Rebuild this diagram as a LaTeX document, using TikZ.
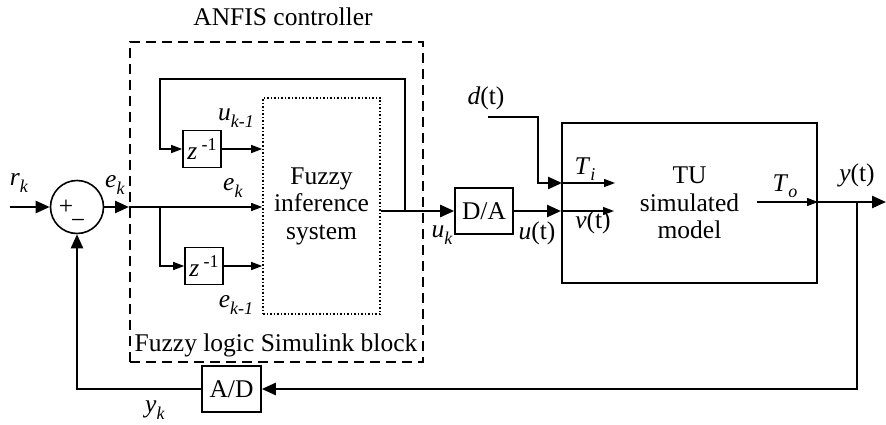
\documentclass[tikz,border=0pt]{standalone}
\usepackage{fontspec}
\setmainfont{Liberation Serif}
\usetikzlibrary{arrows.meta,calc}
\newcommand\sv[2]{\textit{#1}\raisebox{-0.55ex}{\fontsize{18}{18}\selectfont\textit{#2}}}
\newcommand\zinv{\textit{z}\,\raisebox{0.75ex}{\fontsize{18}{18}\selectfont -1}}
\begin{document}
\begin{tikzpicture}[x=1pt,y=-1pt,
  every node/.style={font=\fontsize{25.5}{27.5}\selectfont, inner sep=0pt},
  blk/.style={draw, line width=1.6pt},
  thinline/.style={line width=1.3pt},
  thickline/.style={line width=2.4pt},
  bigarrow/.style={thickline,-{Triangle[length=14pt,width=12pt]}},
  smallarrow/.style={thinline,-{Triangle[length=11pt,width=8pt]}}]
\useasboundingbox (0,0) rectangle (886,425);

% blocks
\node[draw, line width=2pt, dash pattern=on 10pt off 6pt, minimum width=293pt, minimum height=320pt] (ctrl) at (276.5,202) {};
\node (title) at (283,17) {ANFIS controller};
\node (fls) at (276,345) {Fuzzy logic Simulink block};
\node[draw, circle, line width=1.6pt, minimum size=53pt] (sum) at (77,207) {};
\node (plus) at (66,207) {+};
\node (minus) at (78,224) {−};
\node[draw, line width=1.6pt, dash pattern=on 1.5pt off 2pt, minimum width=117pt, minimum height=216pt, align=center] (fis) at (321.5,206) {Fuzzy\\inference\\system};
\node[blk, minimum width=38pt, minimum height=37pt] (z1) at (202,149) {\zinv};
\node[blk, minimum width=38pt, minimum height=37pt] (z2) at (204,266) {\zinv};
\node[blk, minimum width=58pt, minimum height=46pt] (da) at (484,211) {D/A};
\node[draw, line width=2pt, minimum width=255pt, minimum height=160pt, align=center] (tu) at (689.5,203) {TU\\simulated\\model};
\node[blk, minimum width=59pt, minimum height=46pt] (ad) at (231.5,389) {A/D};

% coordinates
\coordinate (rin) at (10,207);
\coordinate (b1) at (160,207);
\coordinate (jo) at (405,211);
\coordinate (l2) at (160,79);
\coordinate (dstart) at (488,117);
\coordinate (dk) at (538,117);
\coordinate (ti) at (562,183);
\coordinate (tiend) at (615,183);
\coordinate (to1) at (757,202);
\coordinate (yout) at (886,202);
\coordinate (fb) at (857,202);
\coordinate (fbc) at (857,389);
\coordinate (fbl) at (77,389);

% connectors
\draw[bigarrow] (rin) -- (sum.west);
\draw[bigarrow] (sum.east) -- (sum.east -| ctrl.west);
\draw[smallarrow] (sum.east -| ctrl.west) -- (sum.east -| fis.west);
\draw[smallarrow] (b1) |- (z2.west);
\draw[smallarrow] (z2.east) -- (z2.east -| fis.west);
\draw[smallarrow] (jo) |- (l2) |- (z1.west);
\draw[smallarrow] (z1.east) -- (z1.east -| fis.west);
\draw[thinline] (fis.east |- jo) -- (jo -| ctrl.east);
\draw[bigarrow] (jo -| ctrl.east) -- (da.west);
\draw[bigarrow] (da.east) -- (da.east -| tu.west);
\draw[bigarrow] (dstart) -- (dk) |- (ti);
\draw[smallarrow] (ti) -- (tiend);
\draw[smallarrow] (da.east -| tu.west) -- ($(da.east -| tu.west)+(53,0)$);
\draw[smallarrow] (to1) -- (to1 -| tu.east);
\draw[bigarrow] (to1 -| tu.east) -- (yout);
\draw[bigarrow] (fb) -- (fbc) -- (ad.east);
\draw[bigarrow] (ad.west) -- (fbl) -- (sum.south);

% labels
\node (lrk) at (19,183) {\sv{r}{k}};
\node (lek) at (115,185) {\sv{e}{k}};
\node (luk1) at (236,118) {\sv{u}{k-1}};
\node (lek2) at (233,188) {\sv{e}{k}};
\node (lek1) at (236,305) {\sv{e}{k-1}};
\node (luk) at (442,235) {\sv{u}{k}};
\node (lut) at (537,233) {\textit{u}(t)};
\node (ldt) at (486,98) {\textit{d}(t)};
\node (lti) at (585,169) {\sv{T}{i}};
\node (lvt) at (593,222) {\textit{v}(t)};
\node (lto) at (785,186) {\sv{T}{o}};
\node (lyt) at (857,175) {\textit{y}(t)};
\node (lyk) at (155,410) {\sv{y}{k}};
\end{tikzpicture}
\end{document}
